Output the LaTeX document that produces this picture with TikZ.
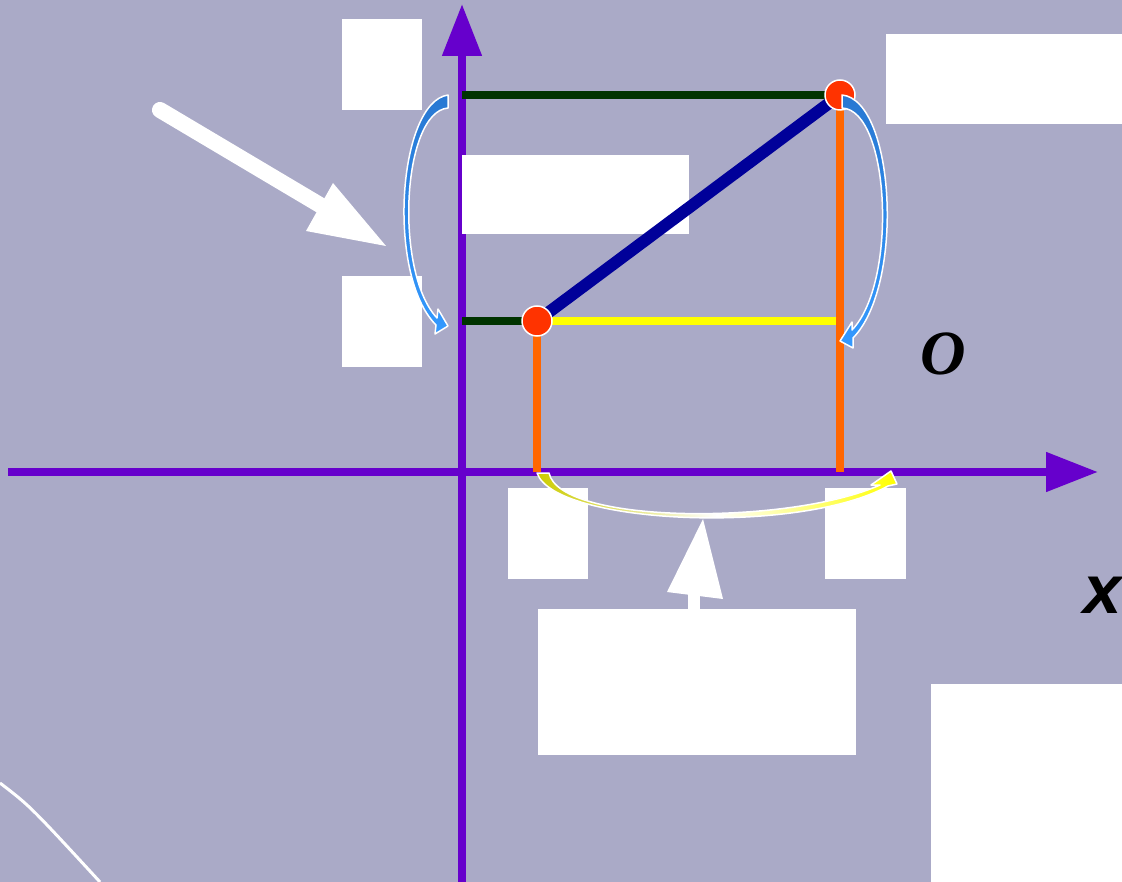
\documentclass[tikz,border=0pt]{standalone}
\usepackage{fontspec}
\setmainfont{Liberation Serif}
\newfontfamily\arialfont{Liberation Sans}
\usetikzlibrary{arrows.meta}
\definecolor{bgc}{RGB}{170,170,199}
\definecolor{axisc}{RGB}{102,0,204}
\definecolor{dkgreen}{RGB}{0,51,0}
\definecolor{orangec}{RGB}{255,102,0}
\definecolor{yellowc}{RGB}{255,255,0}
\definecolor{navyc}{RGB}{0,0,153}
\definecolor{redc}{RGB}{255,51,0}
\definecolor{blueA}{RGB}{40,120,210}
\definecolor{blueB}{RGB}{51,153,255}
\definecolor{oliveY}{RGB}{204,204,0}
\begin{document}
\begin{tikzpicture}[x=1pt,y=-1pt,
  wbox/.style={fill=white,draw=none,inner sep=0pt},
  pt/.style={circle,fill=redc,draw=white,line width=1.5pt,minimum size=30pt,inner sep=0pt},
  axisline/.style={draw=axisc,line width=8pt,-{Triangle[length=52pt,width=38pt]}},
  seg/.style={line width=8pt},
  curvarrow/.style={draw=white,line width=1.5pt,line join=round}]
\fill[bgc] (0,0) rectangle (1122,882);
\useasboundingbox (0,0) rectangle (1122,882);
\clip (0,0) rectangle (1122,882);
% faint white curve bottom-left
\draw[white,line width=3pt] (0,783) .. controls (30,806) .. (100,882);
% axes
\coordinate (xs) at (8,472);
\coordinate (xe) at (1098,472);
\coordinate (ys) at (462,882);
\coordinate (ye) at (462,4);
\draw[axisline] (xs) -- (xe);
\draw[axisline] (ys) -- (ye);
% empty white boxes
\node[wbox,minimum width=80pt,minimum height=91pt] (b1) at (382,64.5) {};
\node[wbox,minimum width=80pt,minimum height=91pt] (b2) at (382,321.5) {};
\node[wbox,minimum width=227pt,minimum height=79pt] (b3) at (575.5,194.5) {};
\node[wbox,minimum width=236pt,minimum height=90pt] (b4) at (1004,79) {};
\node[wbox,minimum width=80pt,minimum height=91pt] (b5) at (548,533.5) {};
\node[wbox,minimum width=81pt,minimum height=91pt] (b6) at (865.5,533.5) {};
\node[wbox,minimum width=318pt,minimum height=146pt] (b7) at (697,682) {};
\node[wbox,minimum width=191pt,minimum height=198pt] (b8) at (1026.5,783) {};
% key points
\coordinate (pA) at (537,321);
\coordinate (pB) at (840,95);
\coordinate (yA) at (462,321);
\coordinate (yB) at (462,95);
\coordinate (xA) at (537,472);
\coordinate (xB) at (840,472);
\coordinate (yE) at (840,321);
\draw[seg,dkgreen] (yB) -- (pB);
\draw[seg,dkgreen] (yA) -- (pA);
\draw[seg,yellowc] (pA) -- (yE);
\draw[seg,orangec] (pA) -- (xA);
\draw[seg,orangec] (pB) -- (xB);
\draw[navyc,line width=12pt] (pA) -- (pB);
\node[pt] (A) at (pA) {};
\node[pt] (B) at (pB) {};
% curved tapered arrows
\filldraw[curvarrow,top color=blueA,bottom color=blueB]
  (448,95) .. controls (398,102) and (386,275) .. (436,325) -- (435,334) -- (448,326) -- (438,309) -- (437,318)
  .. controls (394,272) and (402,112) .. (448,108) -- cycle;
\filldraw[curvarrow,top color=blueA,bottom color=blueB]
  (842,95) .. controls (895,100) and (905,285) .. (853,338) -- (853,348) -- (840,341) -- (852,322) -- (852,330)
  .. controls (898,282) and (890,110) .. (842,108) -- cycle;
\filldraw[curvarrow,left color=oliveY,right color=yellowc,middle color=white]
  (549,473) -- (537,473) .. controls (555,525) and (800,535) .. (888,486) -- (897,484) -- (891,471) -- (871,485) -- (880,485)
  .. controls (790,525) and (560,525) .. (549,473) -- cycle;
% big white pointer arrows
\draw[white,line width=16pt,line cap=round] (160,110) -- (325,208);
\fill[white] (333,183) -- (386,246) -- (306,231) -- cycle;
\draw[white,line width=12pt] (694,609) -- (694,585);
\fill[white] (703,519) -- (723,599) -- (667,592) -- cycle;
% labels
\node[inner sep=0pt,font=\fontsize{63}{63}\selectfont\bfseries\itshape] (O) at (943,354) {O};
\node[inner sep=0pt,font=\arialfont\fontsize{69}{69}\selectfont\bfseries\itshape] (X) at (1103,595) {x};
\end{tikzpicture}
\end{document}
